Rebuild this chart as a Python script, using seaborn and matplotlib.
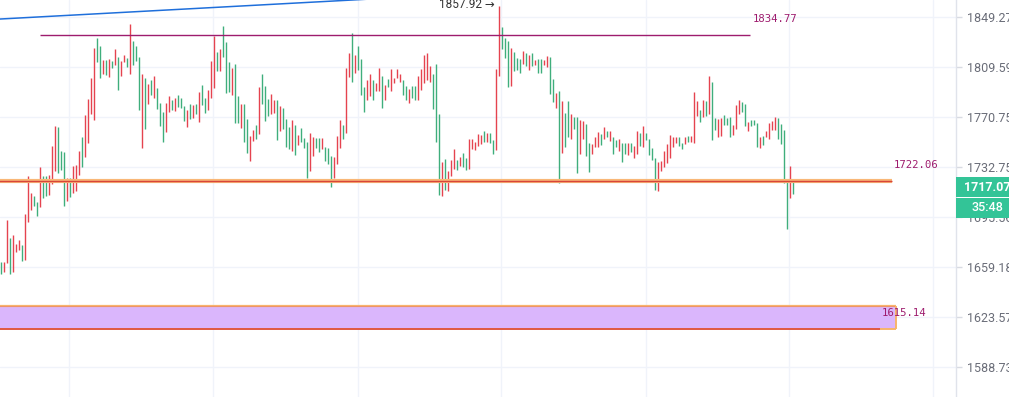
import numpy as np
import pandas as pd
import seaborn as sns
import matplotlib
matplotlib.use("Agg")
import matplotlib.pyplot as plt
from matplotlib.patches import Rectangle
from matplotlib.ticker import FixedLocator, FuncFormatter, NullLocator
from matplotlib.transforms import IdentityTransform

# ---------------- data ----------------
highs = [
    1662.4, 1662.4, 1693.2, 1680.2, 1682.2, 1675.4, 1678.3, 1674.9, 1697.6, 1725.8,
    1713.1, 1710.9, 1706.4, 1732.5, 1725.8, 1725.8, 1726.5, 1748.4, 1763.6, 1762.9,
    1744.6, 1744.1, 1724.3, 1724.3, 1733.5, 1734.0, 1744.6, 1755.2, 1772.1, 1784.4,
    1801.0, 1824.1, 1832.3, 1825.9, 1814.9, 1814.9, 1815.9, 1814.1, 1823.5, 1817.2,
    1814.3, 1818.8, 1816.2, 1843.4, 1829.9, 1825.9, 1817.2, 1803.6, 1801.0, 1795.8,
    1799.2, 1802.1, 1792.9, 1781.3, 1774.6, 1781.5, 1786.7, 1783.6, 1785.2, 1787.5,
    1785.2, 1779.0, 1775.9, 1780.5, 1779.8, 1780.5, 1789.8, 1795.3, 1785.2, 1791.4,
    1814.1, 1833.8, 1821.2, 1823.5, 1841.8, 1829.1, 1813.3, 1808.8, 1811.7, 1786.7,
    1780.5, 1780.5, 1769.2, 1756.0, 1760.6, 1764.4, 1793.7, 1803.9, 1794.5, 1784.6,
    1788.3, 1783.6, 1783.6, 1779.0, 1777.5, 1769.2, 1762.9, 1768.2, 1764.4, 1756.8,
    1762.1, 1754.5, 1751.4, 1758.3, 1755.5, 1754.5, 1754.5, 1754.5, 1747.6, 1746.9,
    1740.8, 1740.1, 1756.0, 1768.2, 1764.4, 1808.8, 1820.4, 1836.2, 1818.8, 1825.9,
    1815.9, 1793.7, 1799.4, 1803.9, 1799.4, 1797.1, 1808.6, 1802.3, 1795.3, 1800.0,
    1807.8, 1800.7, 1807.8, 1804.1, 1799.2, 1794.5, 1792.2, 1794.5, 1794.5, 1802.3,
    1807.8, 1818.8, 1820.4, 1810.1, 1803.9, 1811.7, 1772.8, 1736.3, 1738.6, 1729.7,
    1737.8, 1746.1, 1737.8, 1740.1, 1743.1, 1739.3, 1753.7, 1753.7, 1751.4, 1757.5,
    1756.8, 1759.8, 1758.3, 1758.3, 1753.2, 1807.8, 1857.92, 1841.3, 1832.0, 1830.1,
    1824.3, 1821.2, 1816.6, 1815.4, 1822.2, 1820.1, 1818.6, 1820.1, 1814.9, 1815.4,
    1815.4, 1814.9, 1818.0, 1817.4, 1800.0, 1789.0, 1790.8, 1783.1, 1773.4, 1783.1,
    1772.8, 1770.8, 1770.3, 1768.2, 1767.7, 1765.2, 1750.7, 1749.9, 1755.5, 1758.8,
    1757.5, 1762.9, 1759.6, 1759.6, 1755.2, 1753.2, 1754.0, 1750.7, 1750.7, 1750.7,
    1750.7, 1748.4, 1759.6, 1758.5, 1763.6, 1758.3, 1754.0, 1746.9, 1739.3, 1736.3,
    1737.0, 1744.6, 1749.9, 1756.8, 1755.2, 1755.2, 1755.2, 1750.7, 1755.2, 1756.0,
    1756.0, 1789.8, 1782.9, 1776.1, 1783.6, 1782.9, 1802.3, 1797.9, 1770.0, 1769.0,
    1769.8, 1772.1, 1770.0, 1770.8, 1764.4, 1779.8, 1783.9, 1782.3, 1780.5, 1766.9,
    1768.2, 1768.2, 1765.9, 1755.2, 1756.2, 1759.8, 1765.9, 1767.5, 1770.5, 1770.0,
    1765.2, 1760.6, 1721.5, 1733.3, 1721.5,
]
lows = [
    1653.7, 1655.2, 1661.6, 1653.7, 1655.6, 1669.6, 1671.5, 1663.5, 1664.2, 1691.9,
    1700.7, 1703.5, 1696.1, 1702.9, 1709.2, 1710.9, 1711.6, 1720.0, 1729.7, 1728.2,
    1730.5, 1703.7, 1707.4, 1710.4, 1713.1, 1714.8, 1726.7, 1732.8, 1740.3, 1750.9,
    1773.1, 1768.5, 1813.5, 1801.0, 1803.6, 1803.1, 1801.5, 1808.8, 1810.9, 1791.6,
    1802.5, 1813.0, 1809.6, 1804.1, 1811.2, 1814.3, 1776.1, 1747.1, 1761.6, 1780.8,
    1787.5, 1784.9, 1776.9, 1763.9, 1751.6, 1759.0, 1774.4, 1775.9, 1775.4, 1778.0,
    1777.5, 1767.7, 1763.1, 1769.2, 1770.0, 1772.8, 1766.9, 1780.0, 1773.8, 1775.9,
    1784.9, 1793.2, 1806.4, 1806.2, 1817.4, 1789.3, 1790.0, 1787.5, 1766.2, 1766.2,
    1762.3, 1751.4, 1743.3, 1737.0, 1752.4, 1753.7, 1757.5, 1780.5, 1767.7, 1771.3,
    1772.8, 1773.8, 1752.9, 1760.0, 1761.1, 1747.4, 1746.3, 1744.8, 1741.8, 1749.1,
    1751.4, 1746.9, 1724.3, 1729.7, 1741.0, 1746.9, 1743.8, 1746.1, 1737.0, 1735.0,
    1717.8, 1724.0, 1735.0, 1746.9, 1753.7, 1758.3, 1801.8, 1797.9, 1804.3, 1807.2,
    1787.7, 1774.6, 1783.9, 1787.0, 1783.9, 1790.8, 1790.8, 1777.7, 1783.9, 1793.7,
    1790.8, 1796.6, 1801.0, 1797.9, 1787.7, 1783.9, 1781.4, 1785.4, 1783.9, 1783.9,
    1791.1, 1796.6, 1799.4, 1797.9, 1776.9, 1751.6, 1711.8, 1711.1, 1715.5, 1714.8,
    1726.0, 1730.8, 1730.5, 1733.5, 1732.8, 1730.5, 1731.3, 1746.1, 1745.4, 1748.4,
    1750.1, 1751.6, 1751.6, 1750.9, 1742.5, 1745.1, 1802.3, 1823.3, 1816.4, 1794.0,
    1794.5, 1806.0, 1807.0, 1804.3, 1811.7, 1810.1, 1807.0, 1810.1, 1810.7, 1804.3,
    1804.9, 1810.7, 1809.6, 1788.3, 1782.1, 1777.7, 1720.8, 1743.3, 1747.4, 1755.5,
    1754.0, 1761.6, 1727.8, 1742.1, 1753.7, 1740.8, 1729.0, 1742.6, 1747.9, 1747.9,
    1749.4, 1754.0, 1755.5, 1752.4, 1742.1, 1747.9, 1744.8, 1736.5, 1742.1, 1741.6,
    1743.8, 1739.5, 1742.1, 1748.4, 1747.9, 1753.2, 1741.6, 1737.8, 1715.3, 1714.6,
    1729.5, 1732.5, 1735.5, 1739.5, 1747.6, 1750.7, 1748.4, 1746.3, 1750.1, 1751.4,
    1751.4, 1750.7, 1771.5, 1766.9, 1770.8, 1771.5, 1773.1, 1752.9, 1760.6, 1755.0,
    1756.0, 1764.4, 1764.4, 1755.0, 1756.8, 1761.6, 1773.1, 1774.6, 1763.6, 1760.0,
    1763.9, 1764.4, 1747.6, 1747.1, 1749.1, 1755.2, 1753.7, 1760.6, 1760.8, 1753.7,
    1749.9, 1720.5, 1686.8, 1709.4, 1712.6,
]
# R = rising bar (red), G = falling bar (green)
direction = (
    "GRRGRRRGRR" "RGGRGGRRRG" "GGRGRRRGRR" "RRGGRGRGRG" "RRGRGGGRGR"
    "GRGGGRRGRG" "GGRGRGRGGR" "RRGRGGGRGG" "RGGRRGRGGG" "RRGRGGGRGR"
    "GGGRRGGRGG" "GRRRGRRGRG" "GGRRGRRGRG" "RRRRGGRGGR" "RRRRGGGRGR"
    "RRGRGGRRRR" "RGRGGRRGGG" "RGGGRGRGRG" "GRRGGRGRGG" "RGGRRGGRRR"
    "GRGRGGRGGR" "GRRGRGGGGR" "RRRRRRGGRG" "RRRGRGRGGR" "RGGGRRRGGR"
    "GGGRGRRRRG" "GGGRG"
)

y_ticks = [1588.73, 1623.57, 1659.18, 1695.56, 1732.75, 1770.75, 1809.59, 1849.27]
resistance = 1834.77
support = 1722.06
zone_low, zone_high = 1615.14, 1631.4
last_price = 1717.07
countdown = "35:48"
peak_value = 1857.92
peak_index = 166
trend_x = [-1, 140]
trend_y = [1847.3, 1865.7]

# ---------------- styling ----------------
sns.set_style("white")
plt.rcParams["font.family"] = ["Roboto", "DejaVu Sans"]

RED = "#e5434f"
GREEN = "#3fae7c"
MAG = "#9e1c6e"

df = pd.DataFrame({"idx": np.arange(len(highs)), "high": highs, "low": lows,
                   "dir": list(direction)})
df["color"] = np.where(df["dir"] == "R", RED, GREEN)

fig = plt.figure(figsize=(10.09, 3.97), dpi=100)
ax = fig.add_axes([0, 0, 955.5 / 1009, 1])
ax.set_yscale("log")
ax.set_ylim(1568.0, 1862.7)
ax.set_xlim(-0.333, 318.17)

# grid
ax.yaxis.set_major_locator(FixedLocator(y_ticks))
ax.yaxis.set_minor_locator(NullLocator())
ax.yaxis.set_major_formatter(FuncFormatter(lambda v, p: f"{v:.2f}"))
ax.set_xticks([22.83, 70.83, 118.9, 166.83, 214.9, 262.83, 310.83])
ax.set_xticklabels([])
ax.tick_params(axis="x", length=0)
ax.grid(True, color="#f0f3fa", lw=1.0, zorder=0)
ax.yaxis.tick_right()
ax.tick_params(axis="y", direction="out", length=4, width=1, color="#d8dbe2",
               pad=4, labelsize=9, labelcolor="#6a6d78")
for s in ["top", "left", "bottom"]:
    ax.spines[s].set_visible(False)
ax.spines["right"].set_color("#e0e3eb")
ax.spines["right"].set_linewidth(1.0)

# zone rectangle
ax.add_patch(Rectangle((-2, zone_low), 300.3, zone_high - zone_low,
                       facecolor="#dab6fc", edgecolor="none", zorder=2))
ax.hlines(zone_high, -2, 298.3, color="#f7b46c", lw=1.6, zorder=3)
ax.hlines(zone_high, -2, 298.3, color="#ec8d6a", lw=0.6, zorder=3)
ax.vlines(298.3, zone_low, zone_high, color="#f7b46c", lw=1.4, zorder=3)
ax.hlines(zone_low, -2, 298.3, color="#f7b46c", lw=1.4, zorder=3)
ax.hlines(zone_low, -2, 293.0, color="#dc4a3c", lw=1.2, zorder=3)

# candles (high-low bars)
ax.vlines(df["idx"], df["low"], df["high"], colors=df["color"], lw=1.0, zorder=3)

# trend line
sns.lineplot(x=trend_x, y=trend_y, ax=ax, color="#1f6fdb", lw=1.1, zorder=4)

# resistance & support
ax.hlines(resistance, 13, 249.7, color=MAG, lw=1.0, zorder=5)
ax.hlines(support, -2, 297.0, color="#f9b777", lw=3.0, zorder=5)
ax.hlines(support, -2, 297.0, color="#d8453a", lw=1.0, zorder=6)

mono = dict(family="DejaVu Sans Mono", fontsize=7.7, color=MAG, va="center", ha="left")
ax.annotate(f"{resistance:.2f}", xy=(249.7, resistance), xytext=(2, 11.5),
            textcoords="offset points", **mono)
ax.annotate(f"{support:.2f}", xy=(297.0, support), xytext=(1.5, 11.5),
            textcoords="offset points", **mono)
ax.annotate(f"{zone_low:.2f}", xy=(293.0, zone_low), xytext=(1.5, 11.5),
            textcoords="offset points", zorder=7, **mono)

ax.annotate(f"{peak_value:.2f} →", xy=(peak_index, peak_value), xytext=(-3, 1),
            textcoords="offset points", ha="right", va="center",
            fontsize=8.5, color="#333333", family=["Roboto", "DejaVu Sans"])

# price tags on the axis
x0 = ax.transAxes.transform((1, 0))[0]
yp = ax.transData.transform((0, last_price))[1]
fig.add_artist(Rectangle((x0, yp - 9.5), 60, 20, transform=IdentityTransform(),
                         facecolor="#33c497", edgecolor="none", zorder=10))
fig.add_artist(Rectangle((x0, yp - 30.3), 60, 19.8, transform=IdentityTransform(),
                         facecolor="#33c497", edgecolor="none", zorder=10))
fig.text(x0 + 32, yp + 0.5, f"{last_price:.2f}", transform=IdentityTransform(),
         color="white", fontsize=9, fontweight="bold", ha="center", va="center", zorder=11)
fig.text(x0 + 32, yp - 20.3, countdown, transform=IdentityTransform(),
         color="white", fontsize=9, fontweight="medium", ha="center", va="center", zorder=11)

ax.set_xlabel("")
ax.set_ylabel("")
fig.savefig("out.png", dpi=100)
